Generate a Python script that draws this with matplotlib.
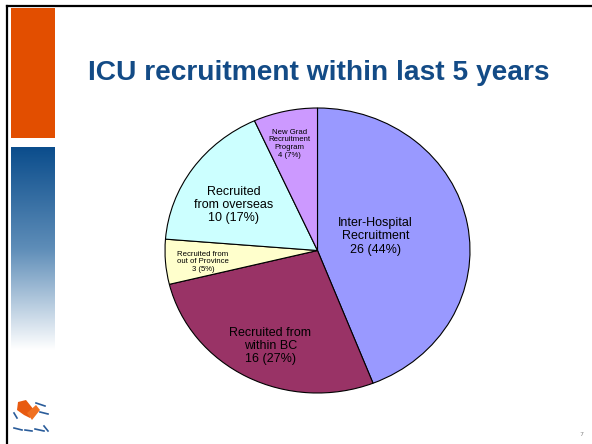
import numpy as np
import matplotlib
matplotlib.use("Agg")
import matplotlib.pyplot as plt
from matplotlib.patches import Rectangle, Polygon
from matplotlib.lines import Line2D
from matplotlib.colors import LinearSegmentedColormap

# ---- data ----
categories = ["Inter-Hospital\nRecruitment", "Recruited from\nwithin BC",
              "Recruited from\nout of Province", "Recruited\nfrom overseas",
              "New Grad\nRecruitment\nProgram"]
counts = [26, 16, 3, 10, 4]
percents = [44, 27, 5, 17, 7]
colors = ["#9999FF", "#993366", "#FFFFCC", "#CCFFFF", "#CC99FF"]
title = "ICU recruitment within last 5 years"

W, H = 592, 444
fig = plt.figure(figsize=(W / 100, H / 100), dpi=100)
fig.patch.set_facecolor("white")

def px_ax(x0, y0, x1, y1):
    return fig.add_axes([x0 / W, 1 - y1 / H, (x1 - x0) / W, (y1 - y0) / H])

# background overlay axes (pixel coordinates)
bg = fig.add_axes([0, 0, 1, 1])
bg.axis("off")

# slide frame (top + left)
bg.add_line(Line2D([7, W], [6.5, 6.5], color="black", lw=1.6))
bg.add_line(Line2D([7, 7], [6.5, H], color="black", lw=1.6))

# orange bar
bg.add_patch(Rectangle((11, 8), 44, 130, facecolor="#E24E00", edgecolor="none"))
# blue gradient bar
grad = np.linspace(0, 1, 256).reshape(-1, 1)
cmap = LinearSegmentedColormap.from_list("g", ["#0B4D8C", "#5E8DB8", "#FFFFFF"])
bg.imshow(grad, extent=(11, 55, 350, 147), cmap=cmap, aspect="auto", zorder=1)
bg.set_xlim(0, W)
bg.set_ylim(H, 0)

# small logo approximation
bg.add_patch(Polygon([[18, 402], [26, 400], [34, 410], [30, 418], [24, 415], [17, 410]],
                     closed=True, facecolor="#E85A10", edgecolor="none"))
bg.add_patch(Polygon([[27, 413], [36, 405], [40, 410], [32, 420]],
                     closed=True, facecolor="#F07020", edgecolor="none"))
for (xa, ya, xb, yb) in [(36, 403, 45, 406), (14, 413, 17, 418), (40, 412, 48, 414),
                         (14, 428, 22, 430), (25, 430, 32, 431), (35, 429, 44, 431),
                         (44, 426, 48, 431)]:
    bg.add_line(Line2D([xa, xb], [ya, yb], color="#2A5C9A", lw=1.2))

# title
t = bg.text(88, 80.5, title, fontsize=17, fontweight="bold", color="#134B86",
            family="Liberation Sans", ha="left", va="baseline")
fig.canvas.draw()
wpx = t.get_window_extent().width
t.set_fontsize(17 * 462 / wpx)

# page number
bg.text(581, 436, "7", fontsize=4.5, color="#888888", ha="center", va="baseline")

# pie
ax = px_ax(165, 108, 470, 393)
wedges, _ = ax.pie(counts, colors=colors, startangle=90, counterclock=False,
                   wedgeprops=dict(edgecolor="black", linewidth=0.8))
ax.set_aspect("auto")
ax.set_xlim(-1, 1)
ax.set_ylim(-1, 1)
for w in wedges:
    w.set_clip_on(False)

# label layout (axes-data positions, font sizes)
label_pos = [(0.38, 0.10), (-0.31, -0.67), (-0.75, -0.08), (-0.55, 0.32), (-0.185, 0.75)]
label_fs = [9, 9, 5.6, 9, 5.6]
for cat, c, p, (lx, ly), fs in zip(categories, counts, percents, label_pos, label_fs):
    ax.text(lx, ly, f"{cat}\n{c} ({p}%)", ha="center", va="center", fontsize=fs,
            family="Liberation Sans", color="black", linespacing=1.15)

fig.savefig("out.png", dpi=100, facecolor="white")
